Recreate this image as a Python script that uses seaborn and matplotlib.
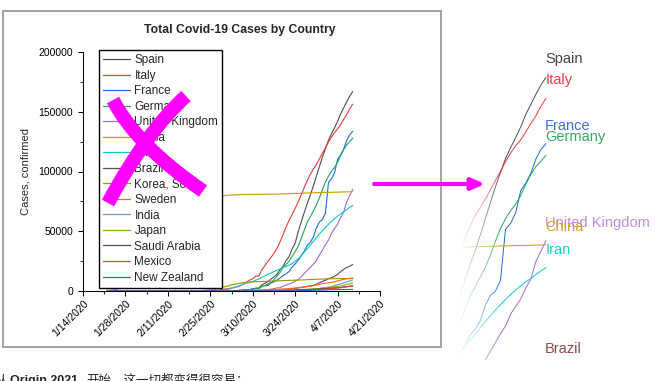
import pandas as pd
import numpy as np
import matplotlib
matplotlib.use("Agg")
import matplotlib.pyplot as plt
import matplotlib.dates as mdates
from matplotlib.path import Path
from matplotlib.patches import PathPatch, Rectangle, FancyArrowPatch
from matplotlib.transforms import Affine2D
import seaborn as sns

# cumulative confirmed cases, one value per day from the start date up to 4/12/2020
countries = ['Spain', 'Italy', 'France', 'Germany', 'United Kingdom', 'China', 'Iran',
             'Brazil', 'Korea, South', 'Sweden', 'India', 'Japan', 'Saudi Arabia',
             'Mexico', 'New Zealand']
colors = ['#4d4d4d', '#ec3c3c', '#1d6ce3', '#27a35c', '#a46cd8', '#cc9a06', '#12c9c9',
          '#6e4646', '#9a9800', '#ff6a0c', '#6e9bcd', '#84b20a', '#4d4d4d', '#ec3c3c',
          '#1d6ce3']
label_colors = {'Spain': '#454545', 'Italy': '#f2404a', 'France': '#3a6ee8',
                'Germany': '#36a862', 'United Kingdom': '#c48ae6', 'China': '#d8a21c',
                'Iran': '#1ccfcf', 'Brazil': '#8a4c4c'}
zoom_countries = ['Spain', 'Italy', 'France', 'Germany', 'United Kingdom', 'China', 'Iran', 'Brazil']

starts = {'Spain': '2020-02-25', 'Italy': '2020-02-21', 'France': '2020-02-25',
          'Germany': '2020-02-25', 'United Kingdom': '2020-02-25', 'China': '2020-01-22',
          'Iran': '2020-02-19', 'Brazil': '2020-03-01', 'Korea, South': '2020-01-22',
          'Sweden': '2020-03-01', 'India': '2020-03-01', 'Japan': '2020-01-22',
          'Saudi Arabia': '2020-03-02', 'Mexico': '2020-03-01', 'New Zealand': '2020-03-01'}

spain = [6, 13, 15, 32, 45,
         84, 120, 165, 222, 259, 400, 500, 673, 1073, 1695,
         2277, 2277, 5232, 6391, 7798, 9942, 11748, 13910, 17963, 20410,
         25374, 28768, 35136, 39885, 49515, 57786, 65719, 73235, 80110, 87956, 95923,
         104118, 112065, 119199, 126168, 131646, 136675, 141942, 148220, 153222, 158273, 163027, 166831]
italy = [20, 62, 155, 229, 322, 453, 655, 888, 1128,
         1694, 2036, 2502, 3089, 3858, 4636, 5883, 7375, 9172, 10149,
         12462, 12462, 17660, 21157, 24747, 27980, 31506, 35713, 41035, 47021,
         53578, 59138, 63927, 69176, 74386, 80589, 86498, 92472, 97689, 101739, 105792,
         110574, 115242, 119827, 124632, 128948, 132547, 135586, 139422, 143626, 147577, 152271, 156363]
france = [14, 18, 38, 57, 100,
          130, 191, 204, 288, 380, 656, 959, 1136, 1219, 1794,
          2293, 2293, 3681, 4496, 4532, 6683, 7715, 9124, 10970, 12758,
          14463, 16243, 20123, 22622, 25600, 29551, 33402, 38105, 40708, 45170, 52827,
          57749, 59929, 65202, 90848, 93773, 98963, 110065, 113959, 118781, 125931, 130727, 133670]
germany = [17, 27, 46, 48, 79,
           130, 159, 196, 262, 482, 670, 799, 1040, 1176, 1457,
           1908, 2078, 3675, 4585, 5795, 7272, 9257, 12327, 15320, 19848,
           22213, 24873, 29056, 32986, 37323, 43938, 50871, 57695, 62095, 66885, 71808,
           77872, 84794, 91159, 96092, 100123, 103374, 107663, 113296, 118181, 122171, 124908, 127854]
uk = [13, 13, 15, 20, 23,
      36, 40, 51, 86, 116, 164, 207, 274, 322, 384,
      459, 459, 802, 1144, 1145, 1551, 1960, 2642, 2716, 4014,
      5067, 5745, 6726, 8164, 9640, 11812, 14745, 17312, 19780, 22453, 25481,
      29865, 34173, 38689, 42477, 48436, 52279, 55949, 61474, 65872, 74605, 79874, 85206]
china = [548, 643, 920, 1406, 2075, 2877, 5509, 6087, 8141, 9802,
         11891, 16630, 19716, 23707, 27440, 30587, 34110, 36814, 39829, 42354,
         44386, 44759, 59895, 66358, 68413, 70513, 72434, 74211, 74619, 75077,
         75550, 77001, 77022, 77241, 77754, 78166, 78600, 78928, 79356,
         79932, 80136, 80261, 80386, 80537, 80690, 80770, 80823, 80860, 80887,
         80921, 80932, 80945, 80977, 81003, 81033, 81058, 81102, 81156, 81250,
         81305, 81435, 81498, 81591, 81661, 81782, 81897, 81999, 82122, 82198, 82279,
         82361, 82432, 82511, 82543, 82602, 82665, 82718, 82809, 82883, 82941, 83014, 83134]
iran = [2, 5, 18, 28, 43, 61, 95, 139, 245, 388, 593,
        978, 1501, 2336, 2922, 3513, 4747, 5823, 6566, 7161, 8042,
        9000, 10075, 11364, 12729, 13938, 14991, 16169, 17361, 18407, 19644,
        20610, 21638, 23049, 24811, 27017, 29406, 32332, 35408, 38309, 41495, 44605,
        47593, 50468, 53183, 55743, 58226, 60500, 62589, 64586, 66220, 68192, 70029, 71686]
brazil = [2, 2, 2, 4, 4, 13, 13, 20, 25, 31,
          38, 52, 151, 151, 162, 200, 321, 372, 621, 793,
          1021, 1546, 1924, 2247, 2554, 2985, 3417, 3904, 4256, 4579, 5717,
          6836, 8044, 9056, 10360, 11130, 12161, 14034, 16170, 18092, 19638, 20727, 22192]
korea = [1, 1, 2, 2, 3, 4, 4, 4, 4, 11,
         12, 15, 15, 16, 19, 23, 24, 24, 25, 27,
         28, 28, 28, 28, 28, 29, 30, 31, 31, 104,
         204, 433, 602, 833, 977, 1261, 1766, 2337, 3150,
         3736, 4335, 5186, 5621, 6088, 6593, 7041, 7314, 7478, 7513,
         7755, 7869, 7979, 8086, 8162, 8236, 8320, 8413, 8565, 8652,
         8799, 8897, 8961, 9037, 9137, 9241, 9332, 9478, 9583, 9661, 9786,
         9887, 9976, 10062, 10156, 10237, 10284, 10331, 10384, 10423, 10450, 10480, 10512]
sweden = [15, 21, 35, 94, 101, 161, 203, 248, 355, 500,
          599, 814, 961, 1022, 1103, 1190, 1279, 1439, 1639, 1763,
          1934, 2046, 2286, 2526, 2840, 3069, 3447, 3700, 4028, 4435, 4947,
          5568, 6131, 6443, 6830, 7206, 7693, 8419, 9141, 9685, 10151, 10483, 10948]
india = [3, 5, 6, 28, 30, 31, 34, 39, 43, 56,
         62, 73, 82, 102, 113, 119, 142, 156, 194, 244,
         330, 396, 499, 536, 657, 727, 887, 987, 1024, 1251, 1397,
         1998, 2543, 2567, 3082, 3588, 4778, 5311, 5916, 6725, 7598, 8446, 9205]
japan = [2, 2, 2, 2, 4, 4, 7, 7, 11, 15,
         20, 20, 20, 22, 22, 45, 25, 25, 26, 26,
         26, 28, 28, 29, 43, 59, 66, 74, 84, 94,
         105, 122, 147, 159, 170, 189, 214, 228, 241,
         256, 274, 293, 331, 360, 420, 461, 502, 511, 581,
         639, 639, 701, 773, 839, 825, 878, 889, 924, 963,
         1007, 1086, 1086, 1128, 1193, 1307, 1387, 1468, 1693, 1866, 1866,
         2178, 2495, 2617, 3139, 3139, 3654, 3906, 4257, 4667, 5530, 6005, 6748]
saudi = [1, 1, 1, 5, 5, 5, 11, 15, 20,
         21, 45, 86, 103, 103, 118, 171, 171, 274, 344,
         392, 511, 562, 767, 900, 1012, 1104, 1203, 1299, 1453, 1563,
         1720, 1885, 2039, 2179, 2402, 2605, 2795, 2932, 3287, 3651, 4033, 4462]
mexico = [5, 5, 5, 5, 5, 6, 6, 7, 7, 7,
          8, 12, 12, 26, 41, 53, 82, 93, 118, 164,
          203, 251, 316, 367, 405, 475, 585, 717, 848, 993, 1094,
          1215, 1378, 1510, 1688, 1890, 2143, 2439, 2785, 3181, 3441, 3844, 4219]
new_zealand = [1, 1, 1, 3, 3, 4, 5, 5, 5, 5,
               5, 5, 5, 6, 8, 8, 12, 20, 28, 39,
               52, 102, 102, 155, 205, 283, 368, 451, 514, 589, 647,
               708, 797, 868, 950, 1039, 1106, 1160, 1210, 1239, 1283, 1312, 1330]

values = [spain, italy, france, germany, uk, china, iran, brazil, korea, sweden,
          india, japan, saudi, mexico, new_zealand]

x_ticks = ['2020-01-14', '2020-01-28', '2020-02-11', '2020-02-25',
           '2020-03-10', '2020-03-24', '2020-04-07', '2020-04-21']
x_tick_labels = ['1/14/2020', '1/28/2020', '2/11/2020', '2/25/2020',
                 '3/10/2020', '3/24/2020', '4/7/2020', '4/21/2020']
y_ticks = [0, 50000, 100000, 150000, 200000]

W, H = 660, 381
all_days = pd.date_range('2020-01-22', '2020-04-12')

frames = []
for name, vals in zip(countries, values):
    s = pd.Series(vals, index=pd.date_range(starts[name], periods=len(vals)))
    s = s.reindex(all_days, fill_value=0)
    frames.append(pd.DataFrame({'date': all_days, 'cases': s.values, 'country': name}))
df = pd.concat(frames, ignore_index=True)
pal = dict(zip(countries, colors))

sns.set_theme(style="ticks")
plt.rcParams['font.family'] = ['Liberation Sans', 'Noto Sans CJK SC']
plt.rcParams['axes.edgecolor'] = 'black'

fig = plt.figure(figsize=(W / 100, H / 100), dpi=100)
# pixel coordinates, y downwards
px = Affine2D().scale(1 / W, -1 / H).translate(0, 1) + fig.transFigure

fig.add_artist(Rectangle((3, 11), 438, 336, transform=px, fill=False,
                         ec='#a2a2a2', lw=1.4))

ax = fig.add_axes([83 / W, 1 - 291 / H, 297 / W, 239 / H])
sns.lineplot(data=df, x='date', y='cases', hue='country', hue_order=countries,
             palette=pal, estimator=None, lw=0.8, ax=ax)
ax.set_xlim(pd.Timestamp('2020-01-14'), pd.Timestamp('2020-04-21'))
ax.set_ylim(0, 200000)
ax.set_xticks(pd.to_datetime(x_ticks))
ax.set_xticklabels(x_tick_labels, rotation=45, ha='right', va='top', rotation_mode='anchor')
ax.set_xticks(pd.date_range('2020-01-21', '2020-04-14', freq='14D'), minor=True)
ax.set_yticks(y_ticks)
ax.set_yticklabels([str(v) for v in y_ticks])
ax.set_yticks([25000, 75000, 125000, 175000], minor=True)
ax.tick_params(which='major', length=3.6, width=0.75, labelsize=7.5, colors='black')
ax.tick_params(which='minor', length=2.2, width=0.75)
ax.tick_params(axis='y', pad=3.4)
ax.tick_params(axis='x', pad=2)
for sp in ax.spines.values():
    sp.set_linewidth(0.75)
sns.despine(ax=ax)
ax.set_xlabel('')
ax.set_ylabel('Cases, confirmed', fontsize=8)
ax.yaxis.set_label_coords((31 - 83) / 297, 0.5)

handles, labels = ax.get_legend_handles_labels()
leg = ax.legend(handles, labels, loc='upper left', bbox_to_anchor=(99, 50),
                bbox_transform=px, frameon=True, fancybox=False, edgecolor='black',
                framealpha=1, borderaxespad=0, fontsize=8.5, handlelength=2.3,
                handletextpad=0.35, labelspacing=0.3, borderpad=0.35)
leg.get_frame().set_linewidth(1.0)
for line in leg.get_lines():
    line.set_linewidth(0.9)

fig.text(240 / W, 1 - 30.5 / H, 'Total Covid-19 Cases by Country', ha='center',
         va='center', fontsize=8.8, weight='bold')

# zoomed view on the right, fading in from the left
zdf = df[df['country'].isin(zoom_countries)]
ax2 = fig.add_axes([460 / W, 1 - 360 / H, 91 / W, 300 / H])
sns.lineplot(data=zdf, x='date', y='cases', hue='country', hue_order=zoom_countries,
             palette=pal, estimator=None, lw=0.7, legend=False, ax=ax2)
x0 = pd.Timestamp('2020-03-26')
grad = np.ones((1, 256, 4))
grad[0, :, 3] = 0.97 * np.linspace(1, 0, 256) ** 0.8
ax2.imshow(grad, extent=[mdates.date2num(x0), mdates.date2num(pd.Timestamp('2020-04-03')),
                         25500, 175500], aspect='auto', zorder=5)
ax2.set_xlim(x0, pd.Timestamp('2020-04-13'))
ax2.set_ylim(25500, 175500)
ax2.axis('off')
for name in zoom_countries:
    last = df[df['country'] == name].iloc[-1]
    ax2.annotate(name, xy=(last['date'], last['cases']), xytext=(-0.5, 13),
                 textcoords='offset points', ha='left', va='center', fontsize=10.5,
                 color=label_colors[name], annotation_clip=False)

# magenta cross over the legend
for p0, c, p2 in [((113, 100), (136, 145), (203, 191)),
                  ((186, 96), (147, 131), (108, 203))]:
    path = Path([p0, c, p2], [Path.MOVETO, Path.CURVE3, Path.CURVE3])
    fig.add_artist(PathPatch(path, transform=px, fill=False, ec='#ff00ff', lw=10,
                             capstyle='butt', zorder=10))

fig.add_artist(FancyArrowPatch((374, 184), (485, 184), transform=px,
                               arrowstyle='-|>,head_length=8,head_width=3.5',
                               color='#ff00ff', lw=3, shrinkA=0, shrinkB=0,
                               mutation_scale=1, zorder=10))

# caption below, cut by the image edge
fig.text(-5 / W, 1 - 384 / H, '从', fontsize=9, va='baseline', family=['Noto Sans CJK SC'])
fig.text(10 / W, 1 - 384 / H, 'Origin 2021', fontsize=9, va='baseline', weight='bold',
         family=['Liberation Sans'])
fig.text(86 / W, 1 - 384 / H, '开始，这一切都变得很容易：', fontsize=9, va='baseline',
         family=['Noto Sans CJK SC'])

fig.savefig('out.png', dpi=100)
